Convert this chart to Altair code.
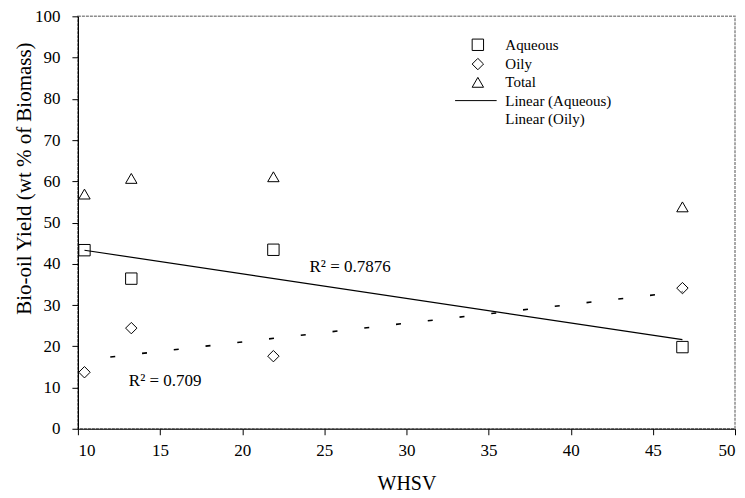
import altair as alt
import pandas as pd

# ---- data ----
whsv = [10.4, 13.25, 21.9, 46.8]
aqueous = [43.3, 36.4, 43.4, 19.8]
oily = [13.7, 24.4, 17.6, 34.1]
total = [56.9, 60.7, 61.1, 53.8]

series_names = ["Aqueous", "Oily", "Total", "Linear (Aqueous)", "Linear (Oily)"]
series_shapes = ["square", "diamond", "triangle-up", "M-4,0L3.3,0", "M0,0"]

ann_x = [24.1, 13.1]
ann_y = [39.3, 11.5]
ann_text = ["R² = 0.7876", "R² = 0.709"]

x_ticks = list(range(10, 51, 5))
y_ticks = list(range(0, 101, 10))

FONT = "Liberation Serif"

rows = []
for name, vals in (("Aqueous", aqueous), ("Oily", oily), ("Total", total)):
    for xv, yv in zip(whsv, vals):
        rows.append({"WHSV": xv, "value": yv, "series": name})
df = pd.DataFrame(rows)
ann_df = pd.DataFrame({"x": ann_x, "y": ann_y, "text": ann_text})

x_enc = alt.X(
    "WHSV:Q",
    scale=alt.Scale(domain=[10, 50], nice=False, zero=False),
    axis=alt.Axis(
        values=x_ticks, title="WHSV", grid=False, tickSize=6, labelPadding=8,
        titleY=55, titleBaseline="middle", titleFontSize=20,
    ),
)
y_enc = alt.Y(
    "value:Q",
    scale=alt.Scale(domain=[0, 100], nice=False),
    axis=alt.Axis(
        values=y_ticks, title="Bio-oil Yield (wt % of Biomass)", grid=False,
        tickSize=6, labelPadding=12, titleX=-53, titleY=162,
        titleBaseline="middle", titleAngle=-90, titleFontSize=21,
    ),
)

base = alt.Chart(df)

points = base.mark_point(filled=False, size=130, color="black", strokeWidth=1, opacity=1).encode(
    x=x_enc,
    y=y_enc,
    shape=alt.Shape(
        "series:N",
        scale=alt.Scale(domain=series_names, range=series_shapes),
        legend=alt.Legend(
            title=None, orient="none", legendX=393, legendY=21,
            labelFont=FONT, labelFontSize=15, labelColor="black",
            symbolSize=130, symbolStrokeColor="black", symbolFillColor="transparent",
            symbolStrokeWidth=1, labelOffset=20, rowPadding=2.3, padding=0,
        ),
    ),
)

line_aq = base.transform_filter(alt.datum.series == "Aqueous").transform_regression(
    "WHSV", "value"
).mark_line(color="black", strokeWidth=1.2).encode(x="WHSV:Q", y="value:Q")

line_oily = base.transform_filter(alt.datum.series == "Oily").transform_regression(
    "WHSV", "value"
).mark_line(color="black", strokeWidth=1.6, strokeDash=[5, 27], strokeDashOffset=6).encode(
    x="WHSV:Q", y="value:Q"
)

ann = alt.Chart(ann_df).mark_text(
    align="left", baseline="middle", font=FONT, fontSize=17, color="black"
).encode(x="x:Q", y="y:Q", text="text:N")

chart = alt.layer(line_aq, line_oily, points, ann).properties(
    width=658,
    height=413,
    autosize=alt.AutoSizeParams(type="none"),
    padding={"left": 70, "top": 8, "right": 2, "bottom": 66},
    background="white",
).configure_view(
    stroke="#8c8c8c", strokeWidth=1.5, strokeDash=[3, 1]
).configure_axis(
    domainColor="black", domainWidth=1.2, tickColor="black", tickWidth=1,
    labelColor="black", labelFont=FONT, labelFontSize=17,
    titleColor="black", titleFont=FONT, titleFontWeight="normal",
)

chart.save("out.html", embed_options={"renderer": "svg", "actions": False})
